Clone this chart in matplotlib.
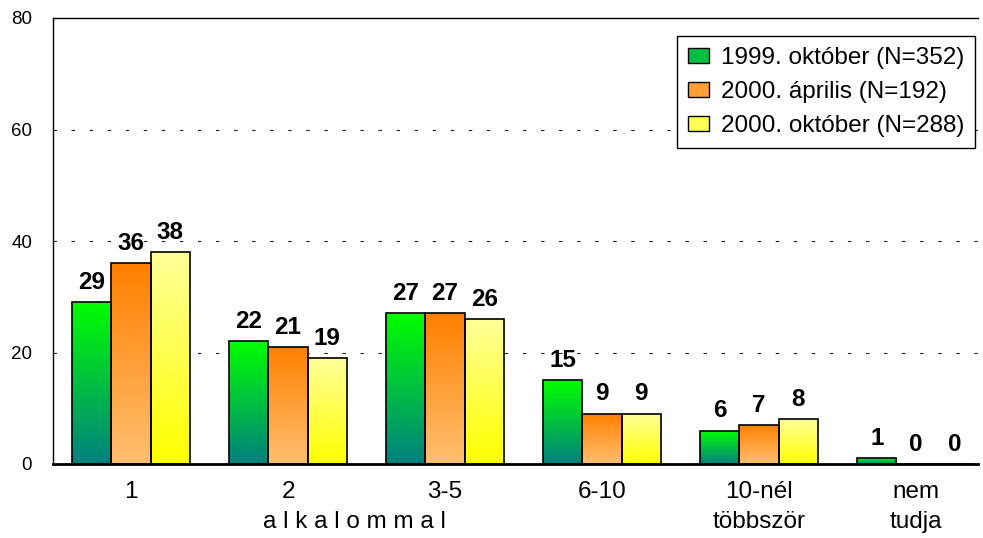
import numpy as np
import matplotlib
matplotlib.use("Agg")
import matplotlib.pyplot as plt
from matplotlib.colors import LinearSegmentedColormap
from matplotlib.patches import Patch

plt.rcParams['font.family'] = ['Liberation Sans', 'DejaVu Sans']
plt.rcParams['lines.scale_dashes'] = False

categories = ['1', '2', '3-5', '6-10', '10-nél\ntöbbször', 'nem\ntudja']
series_names = ['1999. október (N=352)', '2000. április (N=192)', '2000. október (N=288)']
oct_1999 = [29, 22, 27, 15, 6, 1]
apr_2000 = [36, 21, 27, 9, 7, 0]
oct_2000 = [38, 19, 26, 9, 8, 0]
series = [oct_1999, apr_2000, oct_2000]

# gradient colours, (bottom, top)
grads = [('#008080', '#00ff00'), ('#ffbf70', '#ff8000'), ('#ffff00', '#ffff99')]
legend_cols = ['#00bf40', '#ff9f38', '#ffff55']

fig = plt.figure(figsize=(9.83, 5.38), dpi=100)
ax = fig.add_axes([53 / 983, 74 / 538, 925 / 983, 446 / 538])

x = np.arange(len(categories))
w = 0.25
grad = np.linspace(0, 1, 256).reshape(-1, 1)

for i, vals in enumerate(series):
    cmap = LinearSegmentedColormap.from_list('g%d' % i, list(grads[i]))
    bars = ax.bar(x + (i - 1) * w, vals, w, facecolor='none', edgecolor='black',
                  linewidth=1.2, zorder=3)
    for b, v in zip(bars, vals):
        if v <= 0:
            continue
        x0, y0 = b.get_x(), b.get_y()
        im = ax.imshow(grad, cmap=cmap, origin='lower', aspect='auto',
                       extent=[x0, x0 + b.get_width(), y0, y0 + b.get_height()],
                       zorder=2)
        im.set_clip_path(b)
    for b, v in zip(bars, vals):
        ax.annotate(str(v), (b.get_x() + b.get_width() / 2, v), xytext=(0, 6),
                    textcoords='offset points', ha='center', va='bottom',
                    fontsize=17.5, fontweight='bold', zorder=5)

ax.set_xlim(-0.497, 5.395)
ax.set_ylim(0, 80)
ax.set_yticks([0, 20, 40, 60, 80])
ax.set_xticks(x)
ax.set_xticklabels(categories, fontsize=17.5, linespacing=1.45)
ax.tick_params(axis='x', length=0, pad=12.5)
ax.tick_params(axis='y', length=0, pad=15, labelsize=13.5)

for yv in [20, 40, 60]:
    ax.axhline(yv, color='#222222', linewidth=0.8, dashes=(2.5, 10.5), zorder=1)

ax.spines['right'].set_visible(False)
ax.spines['left'].set_linewidth(1.0)
ax.spines['top'].set_linewidth(1.0)
ax.spines['bottom'].set_linewidth(2.0)
ax.spines['bottom'].set_zorder(4)

ax.text(1.42, -0.130, 'a l k a l o m m a l', transform=ax.get_xaxis_transform(),
        ha='center', va='center', fontsize=17.5)

handles = [Patch(facecolor=c, edgecolor='black', linewidth=1.0) for c in legend_cols]
leg = ax.legend(handles, series_names, loc='upper right', bbox_to_anchor=(0.9968, 0.9596),
                fontsize=17.5, frameon=True, fancybox=False, framealpha=1,
                edgecolor='black', borderpad=0.45, labelspacing=0.5,
                handlelength=0.85, handleheight=0.55, handletextpad=0.5,
                borderaxespad=0.0)
leg.get_frame().set_linewidth(1.0)

fig.savefig('out.png', dpi=100)
